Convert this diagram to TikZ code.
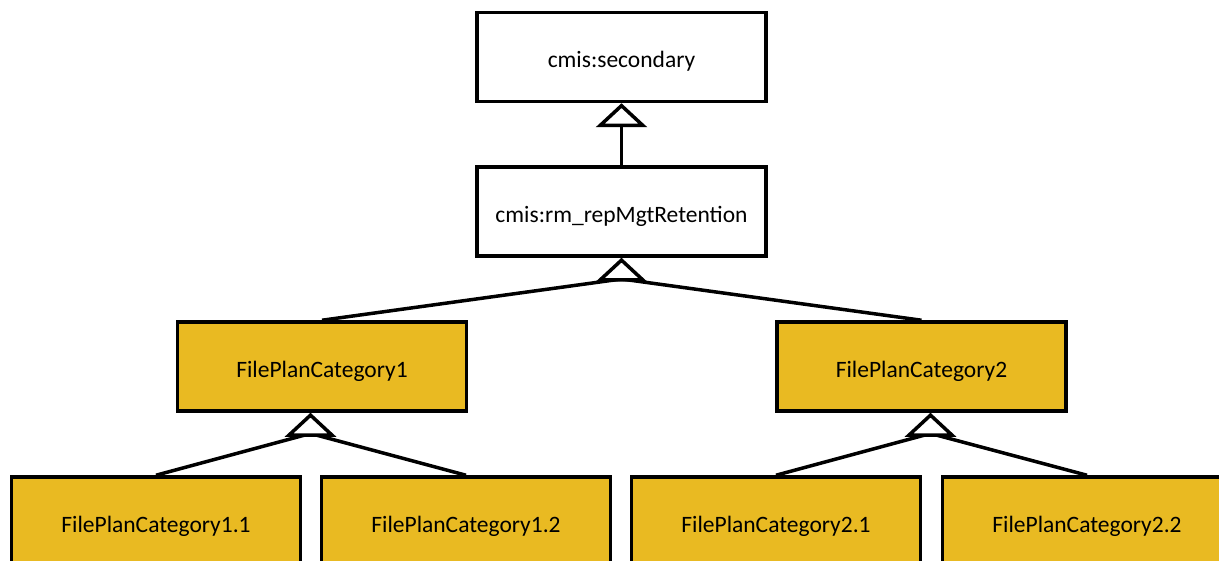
\documentclass[tikz,border=0pt]{standalone}
\usepackage{fontspec}
\setmainfont{Carlito}
\usetikzlibrary{arrows.meta}
\definecolor{catyellow}{RGB}{233,186,34}
\begin{document}
\begin{tikzpicture}[x=1pt,y=-1pt,
  box/.style={draw=black,line width=3.5pt,rectangle,minimum width=289pt,minimum height=89pt,inner sep=0pt,text height=22pt,text depth=0pt,font=\fontsize{23.5}{28}\selectfont,fill=white},
  cat/.style={box,fill=catyellow},
  conn/.style={line width=3.5pt},
  gen/.style={line width=3.5pt,-{Triangle[length=24pt,width=51pt,line join=miter,fill=white]}}]
\useasboundingbox (0,0) rectangle (1219,561);
\node[box] (sec) at (621.5,57) {cmis:secondary};
\node[box] (ret) at (621.5,211.5) {cmis:rm\_repMgtRetention};
\node[cat] (c1) at (322,366.5) {FilePlanCategory1};
\node[cat] (c2) at (921.5,366.5) {FilePlanCategory2};
\node[cat] (c11) at (156,521.5) {FilePlanCategory1.1};
\node[cat] (c12) at (466,521.5) {FilePlanCategory1.2};
\node[cat] (c21) at (776,521.5) {FilePlanCategory2.1};
\node[cat] (c22) at (1087,521.5) {FilePlanCategory2.2};
\coordinate (j0) at (621.5,279);
\coordinate (j1) at (310.5,433.5);
\coordinate (j2) at (930.5,433.5);
\draw[gen] (ret.north) -- (sec.south);
\draw[conn] (c1.north) -- (j0) -- (c2.north);
\draw[gen] (j0) -- (ret.south);
\draw[conn] (c11.north) -- (j1) -- (c12.north);
\draw[gen] (j1) -- (j1 |- c1.south);
\draw[conn] (c21.north) -- (j2) -- (c22.north);
\draw[gen] (j2) -- (j2 |- c2.south);
\end{tikzpicture}
\end{document}
